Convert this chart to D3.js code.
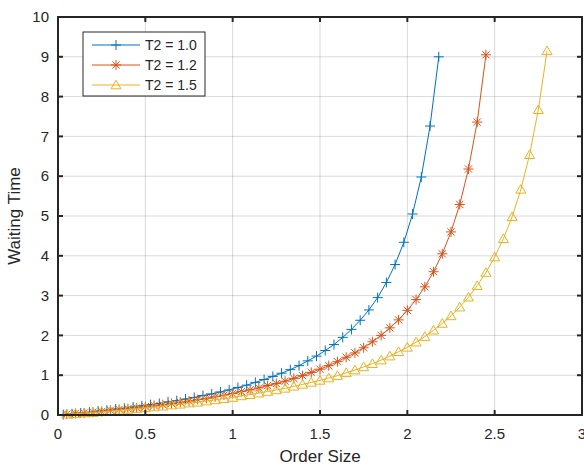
<!DOCTYPE html>
<meta charset="utf-8"/>
<title>Waiting Time vs Order Size</title>
<script src="https://d3js.org/d3.v7.min.js"></script>
<style>
  body { margin: 0; background: #fff; }
  svg { display: block; font-family: 'Liberation Sans', Arial, sans-serif; }
  .grid line { stroke: #000; stroke-opacity: 0.15; stroke-width: 1; }
  .tick-lab { font-size: 15px; fill: #262626; }
  .leg-lab { font-size: 14px; fill: #262626; }
  .ax-title { font-size: 17px; fill: #262626; }
</style>
<svg width="584" height="466"></svg>
<script>
// values
const seriesNames = ['T2 = 1.0', 'T2 = 1.2', 'T2 = 1.5'];

const sizeA = [0.03, 0.08, 0.13, 0.18, 0.23, 0.28, 0.33, 0.38, 0.43, 0.48, 0.53, 0.58, 0.63, 0.68, 0.73,
  0.78, 0.83, 0.88, 0.93, 0.98, 1.03, 1.08, 1.13, 1.18, 1.23, 1.28, 1.33, 1.38, 1.43, 1.48,
  1.53, 1.58, 1.63, 1.68, 1.73, 1.78, 1.83, 1.88, 1.93, 1.98, 2.03, 2.08, 2.13, 2.18];
const waitA = [0.01, 0.03, 0.05, 0.07, 0.10, 0.12, 0.15, 0.17, 0.20, 0.23, 0.26, 0.29, 0.33, 0.36, 0.40,
  0.44, 0.49, 0.53, 0.58, 0.63, 0.69, 0.75, 0.82, 0.89, 0.97, 1.05, 1.14, 1.24, 1.36, 1.48,
  1.62, 1.77, 1.95, 2.15, 2.38, 2.64, 2.95, 3.33, 3.78, 4.34, 5.05, 5.98, 7.26, 9.00];

const sizeB = [0.05, 0.10, 0.15, 0.20, 0.25, 0.30, 0.35, 0.40, 0.45, 0.50, 0.55, 0.60, 0.65, 0.70, 0.75,
  0.80, 0.85, 0.90, 0.95, 1.00, 1.05, 1.10, 1.15, 1.20, 1.25, 1.30, 1.35, 1.40, 1.45, 1.50,
  1.55, 1.60, 1.65, 1.70, 1.75, 1.80, 1.85, 1.90, 1.95, 2.00, 2.05, 2.10, 2.15, 2.20, 2.25,
  2.30, 2.35, 2.40, 2.45];
const waitB = [0.02, 0.04, 0.05, 0.07, 0.09, 0.12, 0.14, 0.16, 0.18, 0.21, 0.24, 0.26, 0.29, 0.32, 0.35,
  0.39, 0.42, 0.46, 0.50, 0.54, 0.59, 0.63, 0.68, 0.74, 0.79, 0.85, 0.92, 0.99, 1.07, 1.15,
  1.24, 1.34, 1.45, 1.56, 1.69, 1.84, 2.00, 2.19, 2.39, 2.63, 2.90, 3.22, 3.60, 4.05, 4.60,
  5.29, 6.18, 7.36, 9.05];

const sizeC = [0.05, 0.10, 0.15, 0.20, 0.25, 0.30, 0.35, 0.40, 0.45, 0.50, 0.55, 0.60, 0.65, 0.70, 0.75,
  0.80, 0.85, 0.90, 0.95, 1.00, 1.05, 1.10, 1.15, 1.20, 1.25, 1.30, 1.35, 1.40, 1.45, 1.50,
  1.55, 1.60, 1.65, 1.70, 1.75, 1.80, 1.85, 1.90, 1.95, 2.00, 2.05, 2.10, 2.15, 2.20, 2.25,
  2.30, 2.35, 2.40, 2.45, 2.50, 2.55, 2.60, 2.65, 2.70, 2.75, 2.80];
const waitC = [0.02, 0.03, 0.05, 0.06, 0.08, 0.10, 0.12, 0.14, 0.16, 0.18, 0.20, 0.22, 0.25, 0.27, 0.30,
  0.32, 0.35, 0.38, 0.41, 0.44, 0.48, 0.51, 0.55, 0.59, 0.63, 0.67, 0.72, 0.77, 0.82, 0.87,
  0.93, 0.99, 1.06, 1.13, 1.21, 1.29, 1.38, 1.48, 1.59, 1.70, 1.83, 1.97, 2.13, 2.30, 2.49,
  2.71, 2.96, 3.25, 3.58, 3.97, 4.43, 4.98, 5.67, 6.54, 7.67, 9.15];

const xTicks = [0, 0.5, 1, 1.5, 2, 2.5, 3];
const yTicks = [0, 1, 2, 3, 4, 5, 6, 7, 8, 9, 10];

const colors = ['#0072BD', '#D95319', '#EDB120'];
const markers = ['plus', 'star', 'tri'];

const svg = d3.select('svg');
const m = {left: 58, right: 582, top: 17, bottom: 415};

const x = d3.scaleLinear().domain([0, 3]).range([m.left, m.right]);
const y = d3.scaleLinear().domain([0, 10]).range([m.bottom, m.top]);

// grid
const grid = svg.append('g').attr('class', 'grid');
grid.selectAll('.gx').data(xTicks.slice(1, -1)).enter().append('line')
  .attr('x1', d => x(d)).attr('x2', d => x(d)).attr('y1', m.top).attr('y2', m.bottom);
grid.selectAll('.gy').data(yTicks.slice(1, -1)).enter().append('line')
  .attr('y1', d => y(d)).attr('y2', d => y(d)).attr('x1', m.left).attr('x2', m.right);

// markers
function markerPath(kind) {
  if (kind === 'plus') return 'M-5,0H5M0,-5V5';
  if (kind === 'star') return 'M-5,0H5M0,-5V5M-3.6,-3.6L3.6,3.6M-3.6,3.6L3.6,-3.6';
  return 'M0,-4.8L5,3.8L-5,3.8Z';
}

const series = [
  {name: seriesNames[0], xs: sizeA, ys: waitA},
  {name: seriesNames[1], xs: sizeB, ys: waitB},
  {name: seriesNames[2], xs: sizeC, ys: waitC}
];

const line = d3.line().x(d => x(d[0])).y(d => y(d[1]));

series.forEach((s, i) => {
  const pts = s.xs.map((v, j) => [v, s.ys[j]]);
  const g = svg.append('g');
  g.append('path').datum(pts)
    .attr('d', line).attr('fill', 'none')
    .attr('stroke', colors[i]).attr('stroke-width', 1);
  g.selectAll('path.mk').data(pts).enter().append('path')
    .attr('class', 'mk')
    .attr('transform', d => 'translate(' + x(d[0]) + ',' + y(d[1]) + ')')
    .attr('d', markerPath(markers[i]))
    .attr('fill', 'none').attr('stroke', colors[i]).attr('stroke-width', 1);
});

// axes box with inward ticks on all sides
const axG = svg.append('g');
axG.append('rect')
  .attr('x', m.left).attr('y', m.top)
  .attr('width', m.right - m.left).attr('height', m.bottom - m.top)
  .attr('fill', 'none').attr('stroke', '#262626').attr('stroke-width', 2);

const tl = 5;
xTicks.forEach(t => {
  axG.append('line').attr('x1', x(t)).attr('x2', x(t)).attr('y1', m.bottom).attr('y2', m.bottom - tl)
    .attr('stroke', '#262626').attr('stroke-width', 2);
  axG.append('line').attr('x1', x(t)).attr('x2', x(t)).attr('y1', m.top).attr('y2', m.top + tl)
    .attr('stroke', '#262626').attr('stroke-width', 2);
});
yTicks.forEach(t => {
  axG.append('line').attr('y1', y(t)).attr('y2', y(t)).attr('x1', m.left).attr('x2', m.left + tl)
    .attr('stroke', '#262626').attr('stroke-width', 2);
  axG.append('line').attr('y1', y(t)).attr('y2', y(t)).attr('x1', m.right).attr('x2', m.right - tl)
    .attr('stroke', '#262626').attr('stroke-width', 2);
});

svg.selectAll('.xl').data(xTicks).enter().append('text')
  .attr('class', 'tick-lab')
  .attr('x', d => x(d)).attr('y', 439)
  .attr('text-anchor', 'middle')
  .text(d => d3.format('')(d));

svg.selectAll('.yl').data(yTicks).enter().append('text')
  .attr('class', 'tick-lab')
  .attr('x', 49).attr('y', d => y(d))
  .attr('dy', '0.35em')
  .attr('text-anchor', 'end')
  .text(d => d);

svg.append('text').attr('class', 'ax-title')
  .attr('x', (m.left + m.right) / 2).attr('y', 462)
  .attr('text-anchor', 'middle').text('Order Size');

svg.append('text').attr('class', 'ax-title')
  .attr('transform', 'translate(20,' + ((m.top + m.bottom) / 2) + ')rotate(-90)')
  .attr('text-anchor', 'middle').text('Waiting Time');

// legend
const lg = svg.append('g').attr('transform', 'translate(83,32)');
lg.append('rect').attr('width', 122).attr('height', 64)
  .attr('fill', '#fff').attr('stroke', '#262626').attr('stroke-width', 1);
series.forEach((s, i) => {
  const ry = 13 + i * 20;
  lg.append('line').attr('x1', 9).attr('x2', 57).attr('y1', ry).attr('y2', ry)
    .attr('stroke', colors[i]).attr('stroke-width', 1);
  lg.append('path').attr('transform', 'translate(33,' + ry + ')')
    .attr('d', markerPath(markers[i]))
    .attr('fill', 'none').attr('stroke', colors[i]).attr('stroke-width', 1);
  lg.append('text').attr('class', 'leg-lab')
    .attr('x', 62).attr('y', ry).attr('dy', '0.35em')
    .text(s.name);
});
</script>
